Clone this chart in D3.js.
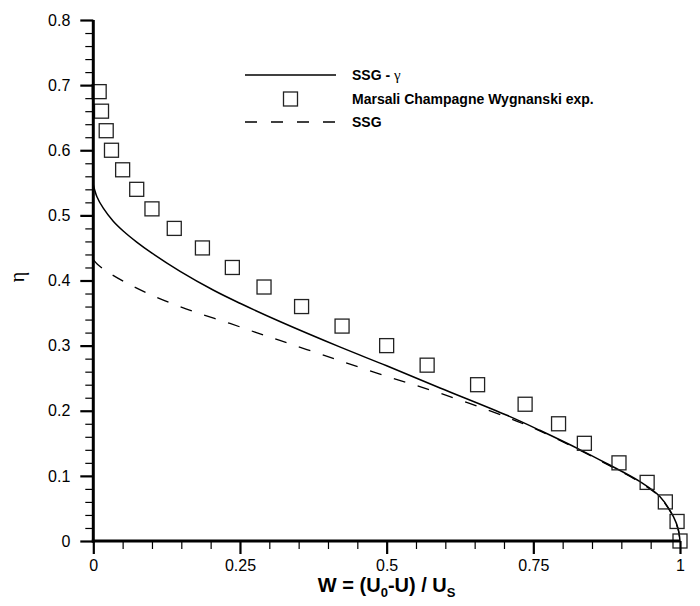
<!DOCTYPE html>
<html>
<head>
<meta charset="utf-8">
<script src="https://cdn.jsdelivr.net/npm/d3@7"></script>
<style>
  html, body { margin: 0; padding: 0; background: #fff; }
  svg { display: block; }
</style>
</head>
<body>
<svg id="chart" width="700" height="606"></svg>
<script>
// ---- data ----
const expW   = [0.010, 0.014, 0.022, 0.031, 0.050, 0.074, 0.100, 0.138, 0.186, 0.237, 0.291, 0.355, 0.424, 0.500, 0.569, 0.655, 0.736, 0.793, 0.837, 0.896, 0.944, 0.975, 0.995, 1.000];
const expEta = [0.69, 0.66, 0.63, 0.60, 0.57, 0.54, 0.51, 0.48, 0.45, 0.42, 0.39, 0.36, 0.33, 0.30, 0.27, 0.24, 0.21, 0.18, 0.15, 0.12, 0.09, 0.06, 0.03, 0.00];

const ssgGammaW   = [0.000, 0.006, 0.017, 0.034, 0.051, 0.074, 0.100, 0.148, 0.205, 0.250, 0.318, 0.420, 0.500, 0.591, 0.705, 0.761, 0.830, 0.875, 0.932, 0.966, 0.989, 0.997, 1.000];
const ssgGammaEta = [0.547, 0.529, 0.511, 0.491, 0.476, 0.459, 0.442, 0.414, 0.385, 0.365, 0.337, 0.298, 0.269, 0.235, 0.193, 0.170, 0.140, 0.119, 0.091, 0.068, 0.037, 0.018, 0.000];

const ssgW   = [0.000, 0.007, 0.023, 0.051, 0.091, 0.136, 0.182, 0.233, 0.278, 0.318, 0.364, 0.420, 0.500, 0.591, 0.705, 0.761, 0.830, 0.875, 0.932, 0.966, 0.989, 0.997, 1.000];
const ssgEta = [0.432, 0.425, 0.414, 0.399, 0.381, 0.364, 0.349, 0.334, 0.320, 0.308, 0.294, 0.277, 0.253, 0.227, 0.190, 0.169, 0.139, 0.118, 0.090, 0.067, 0.036, 0.017, 0.000];

const xMajor = [0, 0.25, 0.5, 0.75, 1];
const xTickLabels = ["0", "0.25", "0.5", "0.75", "1"];
const yMajor = [0, 0.1, 0.2, 0.3, 0.4, 0.5, 0.6, 0.7, 0.8];
const yTickLabels = ["0", "0.1", "0.2", "0.3", "0.4", "0.5", "0.6", "0.7", "0.8"];

const legendLabels = ["SSG - ", "Marsali Champagne Wygnanski exp.", "SSG"];

// ---- layout ----
const svg = d3.select("#chart");
const x = d3.scaleLinear().domain([0, 1]).range([93.3, 680]);
const y = d3.scaleLinear().domain([0, 0.8]).range([541, 20]);
const FONT = "'Liberation Sans', Arial, Helvetica, sans-serif";

// curves
const line = d3.line().x(d => x(d[0])).y(d => y(d[1])).curve(d3.curveCatmullRom.alpha(0.5));
const solidPts = ssgGammaW.map((w, i) => [w, ssgGammaEta[i]]);
const dashPts = ssgW.map((w, i) => [w, ssgEta[i]]);

svg.append("path").attr("d", line(dashPts))
  .attr("fill", "none").attr("stroke", "#000").attr("stroke-width", 1.3)
  .attr("stroke-dasharray", "12,13");
svg.append("path").attr("d", line(solidPts))
  .attr("fill", "none").attr("stroke", "#000").attr("stroke-width", 1.5);

// squares
const S = 14;
svg.append("g").selectAll("rect").data(expW.map((w, i) => [w, expEta[i]])).join("rect")
  .attr("x", d => x(d[0]) - S / 2).attr("y", d => y(d[1]) - S / 2)
  .attr("width", S).attr("height", S)
  .attr("fill", "none").attr("stroke", "#222").attr("stroke-width", 1.3);

// axes
const minorX = d3.range(0, 1.0001, 0.05).filter(v => !xMajor.some(m => Math.abs(m - v) < 1e-6));
const minorY = d3.range(0, 0.8001, 0.02).filter(v => !yMajor.some(m => Math.abs(m - v) < 1e-6));

const xAxisMajor = d3.axisBottom(x).tickValues(xMajor).tickSize(13).tickSizeOuter(0)
  .tickFormat((d, i) => xTickLabels[i]).tickPadding(6);
const gx = svg.append("g").attr("transform", `translate(0,${y(0)})`).call(xAxisMajor);
gx.select(".domain").remove();
gx.selectAll(".tick line").attr("stroke", "#000").attr("stroke-width", 2.2);
gx.selectAll(".tick text").attr("font-family", FONT).attr("font-size", 16).attr("fill", "#000");

const gxm = svg.append("g").attr("transform", `translate(0,${y(0)})`)
  .call(d3.axisBottom(x).tickValues(minorX).tickSize(8).tickFormat(""));
gxm.select(".domain").remove();
gxm.selectAll(".tick line").attr("stroke", "#000").attr("stroke-width", 1.2);

const yAxisMajor = d3.axisLeft(y).tickValues(yMajor).tickSize(13).tickSizeOuter(0)
  .tickFormat((d, i) => yTickLabels[i]).tickPadding(10);
const gy = svg.append("g").attr("transform", `translate(${x(0)},0)`).call(yAxisMajor);
gy.select(".domain").remove();
gy.selectAll(".tick line").attr("stroke", "#000").attr("stroke-width", 2.2);
gy.selectAll(".tick text").attr("font-family", FONT).attr("font-size", 16).attr("fill", "#000");

const gym = svg.append("g").attr("transform", `translate(${x(0)},0)`)
  .call(d3.axisLeft(y).tickValues(minorY).tickSize(8).tickFormat(""));
gym.select(".domain").remove();
gym.selectAll(".tick line").attr("stroke", "#000").attr("stroke-width", 1.2);

// axis lines
svg.append("line").attr("x1", x(0) - 1.5).attr("x2", x(1)).attr("y1", y(0)).attr("y2", y(0))
  .attr("stroke", "#000").attr("stroke-width", 3);
svg.append("line").attr("x1", x(0)).attr("x2", x(0)).attr("y1", y(0) + 1.5).attr("y2", y(0.8))
  .attr("stroke", "#000").attr("stroke-width", 3);

// axis titles
const xt = svg.append("text").attr("x", (x(0) + x(1)) / 2).attr("y", 592)
  .attr("text-anchor", "middle").attr("font-family", FONT).attr("font-weight", "bold")
  .attr("font-size", 20).attr("fill", "#000");
xt.append("tspan").text("W = (U");
xt.append("tspan").text("0").attr("font-size", 13).attr("dy", 5);
xt.append("tspan").text("-U) / U").attr("dy", -5);
xt.append("tspan").text("S").attr("font-size", 13).attr("dy", 5);

svg.append("text").attr("transform", `translate(24,277) rotate(-90)`)
  .attr("text-anchor", "middle").attr("font-family", "'Liberation Serif', 'DejaVu Serif', serif")
  .attr("font-size", 20).attr("fill", "#000").text("η");

// legend
const lg = svg.append("g").attr("font-family", FONT).attr("font-weight", "bold").attr("font-size", 14);
const lx0 = 245, lx1 = 336, tx = 352;
const rows = [75, 99, 122];
lg.append("line").attr("x1", lx0).attr("x2", lx1).attr("y1", rows[0]).attr("y2", rows[0])
  .attr("stroke", "#000").attr("stroke-width", 1.3);
lg.append("rect").attr("x", (lx0 + lx1) / 2 - S / 2).attr("y", rows[1] - S / 2).attr("width", S).attr("height", S)
  .attr("fill", "none").attr("stroke", "#222").attr("stroke-width", 1.3);
lg.append("line").attr("x1", lx0).attr("x2", lx1).attr("y1", rows[2]).attr("y2", rows[2])
  .attr("stroke", "#000").attr("stroke-width", 1.3).attr("stroke-dasharray", "12,14");
const t0 = lg.append("text").attr("x", tx).attr("y", rows[0] + 5);
t0.append("tspan").text(legendLabels[0]);
t0.append("tspan").text("γ").attr("font-weight", "normal")
  .attr("font-family", "'Liberation Serif', 'DejaVu Serif', serif").attr("font-size", 15);
lg.append("text").attr("x", tx).attr("y", rows[1] + 5).text(legendLabels[1]);
lg.append("text").attr("x", tx).attr("y", rows[2] + 5).text(legendLabels[2]);
</script>
</body>
</html>
